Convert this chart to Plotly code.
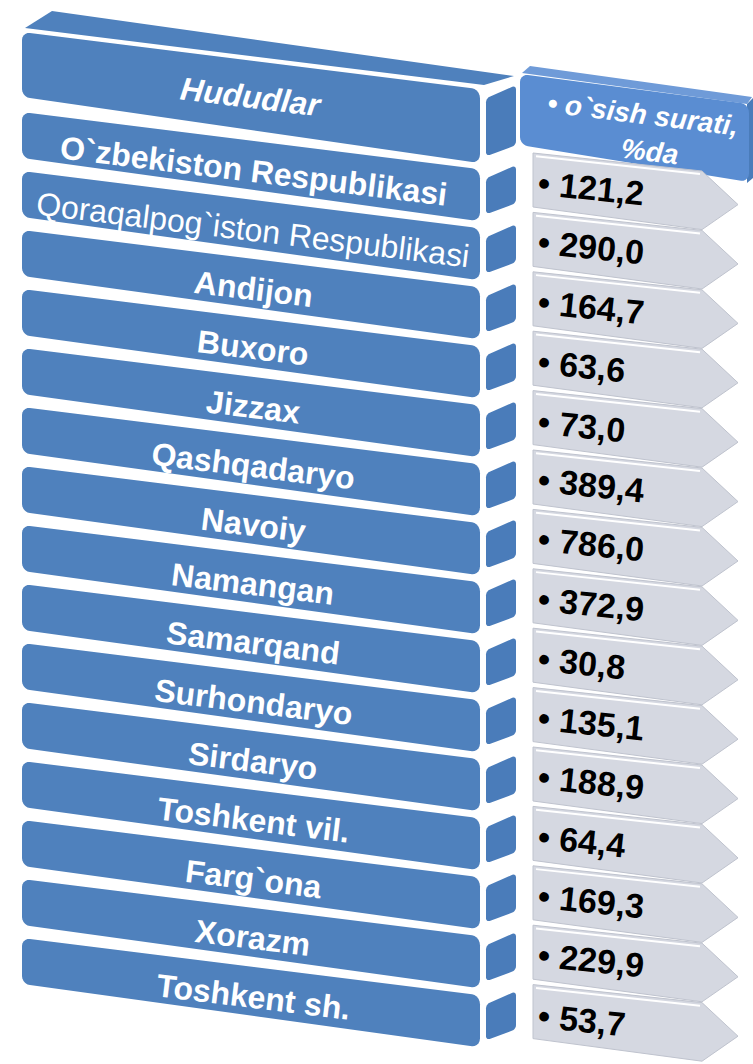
import math
import plotly.graph_objects as go

# ---------------- data ----------------
header_left = "Hududlar"
header_right = ["• o`sish surati,", "%da"]
regions = [
    "O`zbekiston Respublikasi", "Qoraqalpog`iston Respublikasi", "Andijon", "Buxoro",
    "Jizzax", "Qashqadaryo", "Navoiy", "Namangan", "Samarqand", "Surhondaryo",
    "Sirdaryo", "Toshkent vil.", "Farg`ona", "Xorazm", "Toshkent sh.",
]
growth = [121.2, 290.0, 164.7, 63.6, 73.0, 389.4, 786.0, 372.9, 30.8, 135.1,
          188.9, 64.4, 169.3, 229.9, 53.7]

# ---------------- styles / geometry ----------------
W, H = 753, 1064
BLUE = "#4f81bd"
BLUE_SIDE = "#4a7cba"
BLUE_HDR = "#5a8dd2"
ARROW = "#d5d8e1"
LABEL_FONT = "Liberation Sans, Arial, sans-serif"
VALUE_FONT = "Liberation Sans, Arial, sans-serif"

LX0, LX1 = 22, 480
ROW0, STEP, ROWH, RH_RIGHT = 112, 59.0, 46, 52
SLOPE = 0.125
ANG = 7


def rr_local(w, h, r, n=5):
    pts = []
    corners = [(w - r, r, -90, 0), (w - r, h - r, 0, 90), (r, h - r, 90, 180), (r, r, 180, 270)]
    for cx, cy, a0, a1 in corners:
        for k in range(n + 1):
            a = math.radians(a0 + (a1 - a0) * k / n)
            pts.append((cx + r * math.cos(a), cy + r * math.sin(a)))
    return pts


def bilinear(TL, TR, BR, BL, s, t):
    x = (1 - s) * (1 - t) * TL[0] + s * (1 - t) * TR[0] + s * t * BR[0] + (1 - s) * t * BL[0]
    y = (1 - s) * (1 - t) * TL[1] + s * (1 - t) * TR[1] + s * t * BR[1] + (1 - s) * t * BL[1]
    return x, y


def quad_path(TL, TR, BR, BL, r=7):
    w = math.dist(TL, TR)
    h = math.dist(TL, BL)
    r = min(r, h / 2.2, w / 2.2)
    pts = rr_local(w, h, r)
    mapped = [bilinear(TL, TR, BR, BL, u / w, v / h) for u, v in pts]
    return "M " + " L ".join(f"{x:.1f},{y:.1f}" for x, y in mapped) + " Z"


def poly_path(pts):
    return "M " + " L ".join(f"{x:.1f},{y:.1f}" for x, y in pts) + " Z"


shapes = []
annotations = []


def add_shape(path, fill, line_color=None, line_w=0):
    shapes.append(dict(type="path", xref="x", yref="y", path=path, fillcolor=fill,
                       line=dict(color=line_color or fill, width=line_w), layer="below"))


def add_block(TL, BL, h_right):
    TR = (LX1, TL[1] + (LX1 - LX0) * SLOPE)
    BR = (LX1, TR[1] + h_right)
    add_shape(quad_path(TL, TR, BR, BL, r=8), BLUE)
    s0, s1 = 486, 516
    side = [(s0, TR[1] + 9), (s1, TR[1] - 4), (s1, BR[1] - 18), (s0, BR[1] - 7)]
    add_shape(quad_path(side[0], side[1], side[2], side[3], r=4), BLUE_SIDE)
    return TR, BR


# header left block (with top face)
hTL, hBL = (LX0, 32), (LX0, 97)
add_shape(poly_path([(25, 28), (52, 11), (514, 76), (484, 85)]), BLUE)
add_block(hTL, hBL, 74)
annotations.append(dict(x=(LX0 + LX1) / 2, y=97, xref="x", yref="y", text=f"<b><i>{header_left}</i></b>",
                        showarrow=False, textangle=ANG, xanchor="center", yanchor="middle",
                        font=dict(family=LABEL_FONT, size=32, color="white")))

# data rows, left column
for j, name in enumerate(regions):
    top = ROW0 + j * STEP
    add_block((LX0, top), (LX0, top + ROWH), RH_RIGHT)
    txt = name if name.startswith("Qoraqalpog") else f"<b>{name}</b>"
    annotations.append(dict(x=(LX0 + LX1) / 2 + 2, y=top + 59, xref="x", yref="y", text=txt,
                            showarrow=False, textangle=ANG, xanchor="center", yanchor="middle",
                            font=dict(family=LABEL_FONT, size=32, color="white")))

# header right block
rTL, rTR, rBR, rBL = (520, 74), (749, 104), (749, 182), (520, 145)
add_shape(poly_path([(522, 73), (530, 66), (752, 97), (747, 104)]), "#6f9bd8")
add_shape(poly_path([(747, 104), (753, 98), (753, 178), (747, 183)]), "#4a7cba")
add_shape(quad_path(rTL, rTR, rBR, rBL, r=8), BLUE_HDR)
annotations.append(dict(x=643, y=114, xref="x", yref="y", text=f"<b><i>{header_right[0]}</i></b>",
                        showarrow=False, textangle=ANG, xanchor="center", yanchor="middle",
                        font=dict(family=LABEL_FONT, size=28, color="white")))
annotations.append(dict(x=650, y=151, xref="x", yref="y", text=f"<b><i>{header_right[1]}</i></b>",
                        showarrow=False, textangle=ANG, xanchor="center", yanchor="middle",
                        font=dict(family=LABEL_FONT, size=28, color="white")))

# arrows with values
AX0, AX1, ATIP, AH = 533, 702, 738, 27
A_ROW0, A_STEP = 180, 59.4


def apt(m, x, v):
    return (x, m + (x - AX0) * 0.12 + v * (1 + 0.1 * (x - AX0) / 200))


for j, val in enumerate(growth):
    m = A_ROW0 + j * A_STEP
    pts = [apt(m, AX0, -AH), apt(m, AX1, -AH), apt(m, ATIP, 0), apt(m, AX1, AH), apt(m, AX0, AH)]
    add_shape(poly_path(pts), ARROW, "#bfc3ce", 1)
    hl = [apt(m, AX0 + 3, -AH + 3), apt(m, AX1 - 2, -AH + 3)]
    shapes.append(dict(type="line", xref="x", yref="y", x0=hl[0][0], y0=hl[0][1], x1=hl[1][0], y1=hl[1][1],
                       line=dict(color="white", width=2), layer="below"))
    label = "• " + f"{val:.1f}".replace(".", ",")
    annotations.append(dict(x=AX0 + 1, y=m + 8, xref="x", yref="y", text=f"<b>{label}</b>",
                            showarrow=False, textangle=ANG - 1, xanchor="left", yanchor="middle",
                            font=dict(family=VALUE_FONT, size=34, color="black")))

fig = go.Figure()
fig.add_trace(go.Scatter(x=[0, W], y=[0, H], mode="markers", marker=dict(opacity=0),
                         hoverinfo="skip", showlegend=False))
fig.update_layout(
    width=W, height=H, margin=dict(l=0, r=0, t=0, b=0),
    paper_bgcolor="white", plot_bgcolor="white",
    xaxis=dict(range=[0, W], visible=False, fixedrange=True),
    yaxis=dict(range=[H, 0], visible=False, fixedrange=True),
    shapes=shapes, annotations=annotations, showlegend=False,
)
fig.write_html("out.html", config={"displayModeBar": False},
               post_script="document.body.style.margin='0';")
